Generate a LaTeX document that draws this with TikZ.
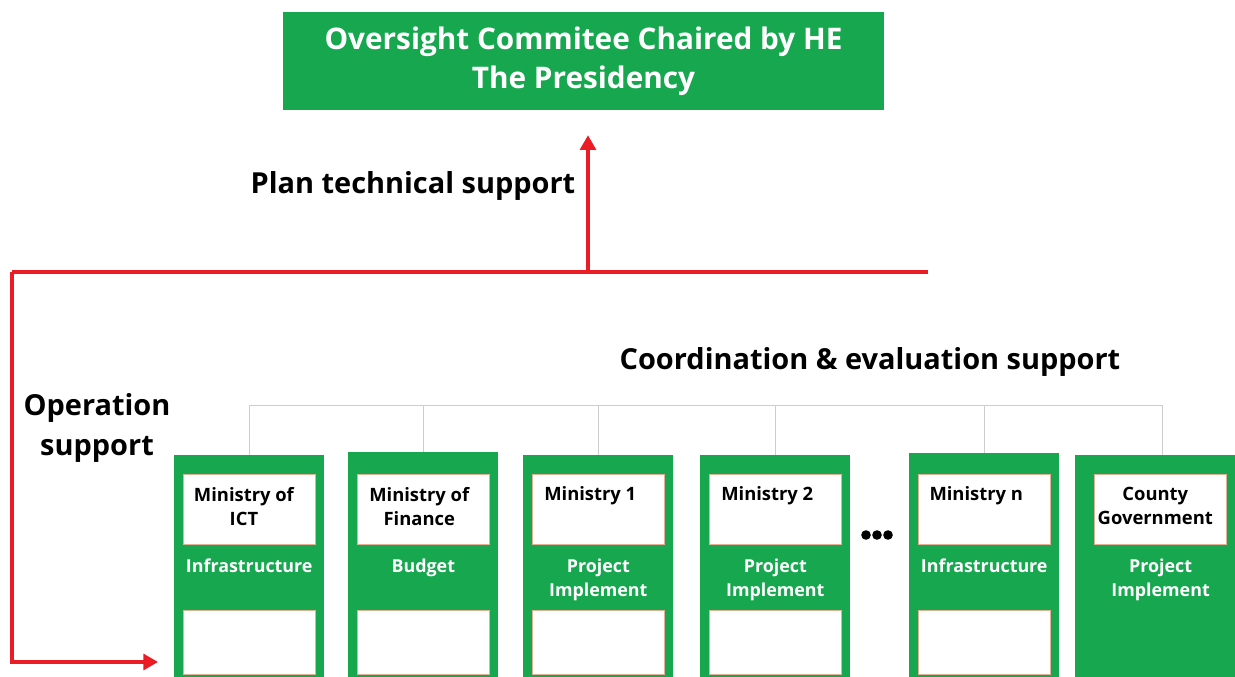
\documentclass[tikz,border=0pt]{standalone}
\usepackage{fontspec}
\setmainfont{Open Sans}
\usetikzlibrary{positioning, arrows.meta}
\definecolor{govgreen}{RGB}{23,168,79}
\definecolor{flowred}{RGB}{236,28,36}
\definecolor{slotedge}{RGB}{226,176,150}
\definecolor{treegray}{RGB}{205,205,205}

\begin{document}
\begin{tikzpicture}[
    x=0.75pt, y=-0.75pt,
    topbox/.style={rectangle, fill=govgreen, minimum width=450.75pt, minimum height=73.5pt,
        text=white, font=\bfseries\fontsize{22.3}{29}\selectfont, align=center},
    column/.style={rectangle, fill=govgreen, anchor=north west, minimum width=112.5pt,
        minimum height=170pt, inner sep=0pt},
    namebox/.style={rectangle, fill=white, draw=slotedge, line width=0.5pt,
        minimum width=99pt, minimum height=52.5pt, inner sep=0pt},
    slotbox/.style={namebox, minimum height=48pt},
    nametext/.style={font=\bfseries\fontsize{13.8}{18}\selectfont, align=center, inner sep=0pt},
    roletext/.style={text=white, font=\bfseries\fontsize{13.4}{18}\selectfont, align=center, inner sep=0pt},
    supportlabel/.style={font=\bfseries\fontsize{21.7}{30}\selectfont, align=center},
    treeline/.style={draw=treegray, line width=0.6pt},
    flowline/.style={draw=flowred, line width=2.3pt},
    flowarrow/.style={flowline, -{Triangle[length=11pt, width=12pt]}}
]
\useasboundingbox (0,0) rectangle (1235,677);

% Oversight committee
\node[topbox] (top) at (583.5,61) {Oversight Commitee Chaired by HE\\The Presidency};

% Columns
\node[column] (c1) at (174,455) {};
\node[column] (c2) at (348,452) {};
\node[column] (c3) at (523,455) {};
\node[column] (c4) at (700,455) {};
\node[column] (c5) at (909,453) {};
\node[column, minimum width=131pt] (c6) at (1075,455) {};

% Name boxes
\node[namebox, below=14.25pt of c1.north] (n1) {};
\node[namebox, below=16.5pt of c2.north] (n2) {};
\node[namebox, below=14.25pt of c3.north] (n3) {};
\node[namebox, below=14.25pt of c4.north] (n4) {};
\node[namebox, below=15.75pt of c5.north] (n5) {};
\node[namebox, below=14.25pt of c6.north, xshift=-1.5pt] (n6) {};

\node[nametext, below=9.5pt of n1.north, xshift=-4pt] {Ministry of\\ICT};
\node[nametext, below=9.5pt of n2.north, xshift=-3pt] {Ministry of\\Finance};
\node[nametext, below=9.5pt of n3.north, xshift=-6pt] {Ministry 1};
\node[nametext, below=9.5pt of n4.north, xshift=-6pt] {Ministry 2};
\node[nametext, below=9.5pt of n5.north, xshift=-6pt] {Ministry n};
\node[nametext, below=9.5pt of n6.north, xshift=-4pt] {County\\Government};

% Roles
\node[roletext, below=10.5pt of n1.south] (r1) {Infrastructure};
\node[roletext, below=10.5pt of n2.south] (r2) {Budget};
\node[roletext, below=10.5pt of n3.south] (r3) {Project\\Implement};
\node[roletext, below=10.5pt of n4.south] (r4) {Project\\Implement};
\node[roletext, below=10.5pt of n5.south] (r5) {Infrastructure};
\node[roletext, below=10.5pt of n6.south] (r6) {Project\\Implement};

% Empty slots
\node[slotbox, anchor=north] (s1) at (n1.south |- 0,610) {};
\node[slotbox, anchor=north] (s2) at (n2.south |- 0,610) {};
\node[slotbox, anchor=north] (s3) at (n3.south |- 0,610) {};
\node[slotbox, anchor=north] (s4) at (n4.south |- 0,610) {};
\node[slotbox, anchor=north] (s5) at (n5.south |- 0,610) {};

% Dots between Ministry 2 and Ministry n
\foreach \dx in {866,877,888}
    \fill (\dx,535) circle (3.6pt);

% Coordination tree
\coordinate (bus) at (0,405);
\draw[treeline] (c1.north |- bus) -- (c6.north |- bus);
\foreach \c in {c1,c2,c3,c4,c5,c6}
    \draw[treeline] (\c.north) -- (\c.north |- bus);

% Support flows
\coordinate (jL) at (12,272);
\coordinate (jM) at (588,272);
\coordinate (jR) at (928,272);
\coordinate (opBend) at (12,662);
\draw[flowline] (jR) -- (jL);
\draw[flowarrow, shorten >=18.75pt] (jM) -- (jM |- top.south);
\draw[flowarrow, shorten >=12pt] (jL) -- (opBend) -- (c1.west |- opBend);

% Labels
\node[supportlabel] (planlbl) at (413,186) {Plan technical support};
\node[supportlabel] (coordlbl) at (870,362) {Coordination \& evaluation support};
\node[supportlabel] (oplbl) at (97,428) {Operation\\support};

\end{tikzpicture}
\end{document}
